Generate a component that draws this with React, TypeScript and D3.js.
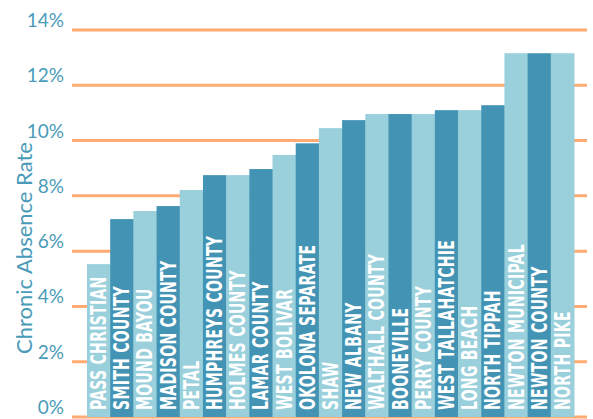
import React from "react";
import * as d3 from "d3";

const categories = [
  "PASS CHRISTIAN", "SMITH COUNTY", "MOUND BAYOU", "MADISON COUNTY", "PETAL",
  "HUMPHREYS COUNTY", "HOLMES COUNTY", "LAMAR COUNTY", "WEST BOLIVAR", "OKOLONA SEPARATE",
  "SHAW", "NEW ALBANY", "WALTHALL COUNTY", "BOONEVILLE", "PERRY COUNTY",
  "WEST TALLAHATCHIE", "LONG BEACH", "NORTH TIPPAH", "NEWTON MUNICIPAL", "NEWTON COUNTY", "NORTH PIKE",
];
const values = [
  5.53, 7.16, 7.45, 7.63, 8.21,
  8.75, 8.75, 8.97, 9.48, 9.9,
  10.45, 10.74, 10.96, 10.96, 10.96,
  11.1, 11.1, 11.28, 13.16, 13.16, 13.16,
];
const yTicks = [0, 2, 4, 6, 8, 10, 12, 14];

const W = 593, H = 419;
const LIGHT = "#99d0dc";
const DARK = "#4394b4";
const GRID = "#ffab73";
const AXIS = "#4a9bb9";

export default function App() {
  const x = d3.scaleBand<string>().domain(categories).range([87, 574]).padding(0);
  const y = d3.scaleLinear().domain([0, 14]).range([417, 30]);
  const bw = x.bandwidth();
  return (
    <div style={{ position: "fixed", left: 0, top: 0 }}>
      <svg width={W} height={H} style={{ display: "block", background: "#fff" }}>
        {yTicks.map((t) => (
          <g key={t}>
            <line x1={72} x2={587} y1={y(t)} y2={y(t)} stroke={GRID} strokeWidth={3} />
            <text x={64} y={y(t) - 3} textAnchor="end" fill={AXIS}
              style={{ fontFamily: "Lato, 'Open Sans', sans-serif", fontSize: 19 }}>{t}%</text>
          </g>
        ))}
        <text transform={`translate(32,${248}) rotate(-90)`} textAnchor="middle" fill={AXIS}
          style={{ fontFamily: "Lato, 'Open Sans', sans-serif", fontSize: 22 }}>Chronic Absence Rate</text>
        {categories.map((c, i) => (
          <rect key={c} x={x(c)!} y={y(values[i])} width={bw + 0.5} height={y(0) - y(values[i])}
            fill={i % 2 === 0 ? LIGHT : DARK} />
        ))}
        {categories.map((c, i) => {
          const cx = x(c)! + bw / 2;
          return (
            <text key={c + "l"} transform={`translate(${cx + 7.5},410) rotate(-90) scale(0.76,1)`}
              fill="#fff" textAnchor="start"
              style={{ fontFamily: "'DejaVu Sans Condensed', 'Liberation Sans Narrow', sans-serif", fontWeight: 700, fontSize: 20.5, letterSpacing: 0.4 }}>
              {c}
            </text>
          );
        })}
      </svg>
    </div>
  );
}
